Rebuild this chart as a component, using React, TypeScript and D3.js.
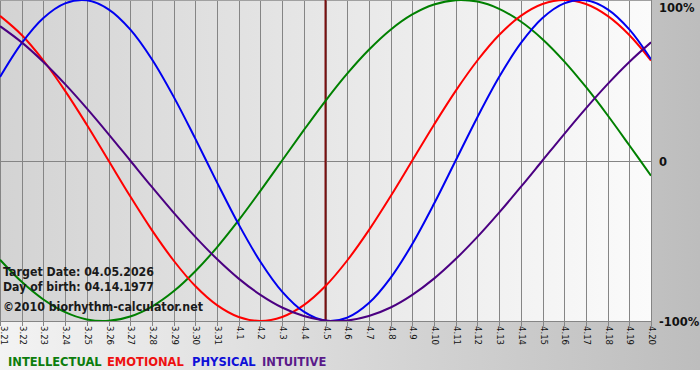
import React from "react";
import * as d3 from "d3";

const dayLabels = [
  "3.21","3.22","3.23","3.24","3.25","3.26","3.27","3.28","3.29","3.30","3.31",
  "4.1","4.2","4.3","4.4","4.5","4.6","4.7","4.8","4.9","4.10","4.11","4.12",
  "4.13","4.14","4.15","4.16","4.17","4.18","4.19","4.20",
];

const intellectual = [
  -0.618,-0.756,-0.866,-0.945,-0.99,-0.999,-0.972,-0.91,-0.815,-0.69,-0.541,-0.372,-0.189,0,
  0.189,0.372,0.541,0.69,0.815,0.91,0.972,0.999,0.99,0.945,0.866,0.756,0.618,0.458,0.282,0.095,-0.095,
];
const emotional = [
  0.901,0.782,0.623,0.434,0.223,0,-0.223,-0.434,-0.623,-0.782,-0.901,-0.975,-1,-0.975,-0.901,
  -0.782,-0.623,-0.434,-0.223,0,0.223,0.434,0.623,0.782,0.901,0.975,1,0.975,0.901,0.782,0.623,
];
const physical = [
  0.52,0.731,0.888,0.979,0.998,0.942,0.817,0.631,0.398,0.136,-0.136,-0.398,-0.631,-0.817,-0.942,
  -0.998,-0.979,-0.888,-0.731,-0.52,-0.27,0,0.27,0.52,0.731,0.888,0.979,0.998,0.942,0.817,0.631,
];
const intuitive = [
  0.837,0.736,0.614,0.476,0.325,0.165,0,-0.165,-0.325,-0.476,-0.614,-0.736,-0.837,-0.916,-0.969,
  -0.997,-0.997,-0.969,-0.916,-0.837,-0.736,-0.614,-0.476,-0.325,-0.165,0,0.165,0.325,0.476,0.614,0.736,
];

const seriesNames = ["INTELLECTUAL", "EMOTIONAL", "PHYSICAL", "INTUITIVE"];
const yTickValues = [1, 0, -1];
const yTickLabels = ["100%", "0", "-100%"];
const targetIndex = 15;
const infoLines = ["Target Date: 04.05.2026", "Day of birth: 04.14.1977"];
const copyright = "©2010 biorhythm-calculator.net";

export default function App() {
  const W = 700, H = 380;
  const plotW = 651, plotH = 321;
  const x = d3.scaleLinear().domain([0, dayLabels.length - 1]).range([0, plotW]);
  const y = d3.scaleLinear().domain([-1, 1]).range([plotH, 0]);

  const series = [
    { name: seriesNames[0], data: intellectual, color: "#008000", text: "#0d7d0d" },
    { name: seriesNames[1], data: emotional, color: "#ff0000", text: "#ee1111" },
    { name: seriesNames[2], data: physical, color: "#0000f0", text: "#1010d8" },
    { name: seriesNames[3], data: intuitive, color: "#4b0082", text: "#5a1a8a" },
  ];

  const line = d3
    .line<number>()
    .x((_, i) => x(i))
    .y((d) => y(d))
    .curve(d3.curveCatmullRom.alpha(0.5));

  const legendX = [8, 107, 192, 262];
  const yLabelBaseline = [11.5, 166, 326];
  const font = "'DejaVu Sans', Verdana, sans-serif";
  const infoLen = [151, 151];

  return (
    <div style={{ position: "fixed", left: 0, top: 0 }}>
      <svg width={W} height={H} style={{ display: "block" }}>
        <defs>
          <linearGradient id="bg" x1="0" x2="1" y1="0" y2="0">
            <stop offset="0" stopColor="#f3f3f3" />
            <stop offset="1" stopColor="#bdbdbd" />
          </linearGradient>
          <linearGradient id="plotbg" x1="0" x2="1" y1="0" y2="0">
            <stop offset="0" stopColor="#d3d3d3" />
            <stop offset="1" stopColor="#fbfbfb" />
          </linearGradient>
          <clipPath id="clip">
            <rect x={0} y={0} width={plotW} height={plotH} />
          </clipPath>
        </defs>
        <rect x={0} y={0} width={W} height={H} fill="#ffffff" />
        <rect x={0} y={0} width={W} height={370} fill="url(#bg)" />
        <rect x={0} y={0} width={plotW} height={plotH} fill="url(#plotbg)" />

        {/* grid */}
        {dayLabels.map((_, i) => (
          <line
            key={"g" + i}
            x1={Math.round(x(i)) + 0.5}
            x2={Math.round(x(i)) + 0.5}
            y1={0}
            y2={plotH + 5}
            stroke="#858585"
            strokeWidth={1}
          />
        ))}
        <line x1={0} x2={plotW} y1={0.5} y2={0.5} stroke="#a0a0a0" />
        <line x1={0} x2={plotW} y1={Math.round(y(0)) + 0.5} y2={Math.round(y(0)) + 0.5} stroke="#858585" />
        <line x1={0} x2={plotW} y1={plotH + 0.5} y2={plotH + 0.5} stroke="#858585" />

        {/* target date line */}
        <line
          x1={x(targetIndex)}
          x2={x(targetIndex)}
          y1={0}
          y2={plotH}
          stroke="#7a1010"
          strokeWidth={2}
        />

        {/* curves */}
        <g clipPath="url(#clip)">
          {series.map((s) => (
            <path key={s.name} d={line(s.data) || ""} fill="none" stroke={s.color} strokeWidth={2} />
          ))}
        </g>

        {/* y labels */}
        {yTickValues.map((v, i) => (
          <text
            key={"y" + v}
            x={659}
            y={yLabelBaseline[i]}
            fontFamily={font}
            fontWeight="bold"
            fontSize={11.5}
            fill="#111"
          >
            {yTickLabels[i]}
          </text>
        ))}

        {/* x labels */}
        {dayLabels.map((d, i) => (
          <text
            key={"x" + d}
            transform={`translate(${Math.max(x(i) + 0.5, 3)},${plotH + 5}) rotate(90)`}
            fontFamily="'DejaVu Sans Condensed', 'DejaVu Sans', sans-serif"
            fontSize={9.5}
            dominantBaseline="middle"
            fill="#111"
          >
            {d}
          </text>
        ))}

        {/* info text */}
        {infoLines.map((t, i) => (
          <text
            key={"i" + i}
            x={3}
            y={276 + i * 15}
            fontFamily={font}
            fontWeight="bold"
            fontSize={11.5}
            textLength={infoLen[i]}
            lengthAdjust="spacingAndGlyphs"
            fill="#1a1a1a"
          >
            {t}
          </text>
        ))}
        <text
          x={3}
          y={311}
          fontFamily={font}
          fontWeight="bold"
          fontSize={12}
          textLength={200}
          lengthAdjust="spacingAndGlyphs"
          fill="#1a1a1a"
        >
          {copyright}
        </text>

        {/* legend */}
        {series.map((s, i) => (
          <text
            key={"l" + s.name}
            x={legendX[i]}
            y={366}
            fontFamily={font}
            fontWeight="bold"
            fontSize={11.5}
            fill={s.text}
          >
            {s.name}
          </text>
        ))}
      </svg>
    </div>
  );
}
